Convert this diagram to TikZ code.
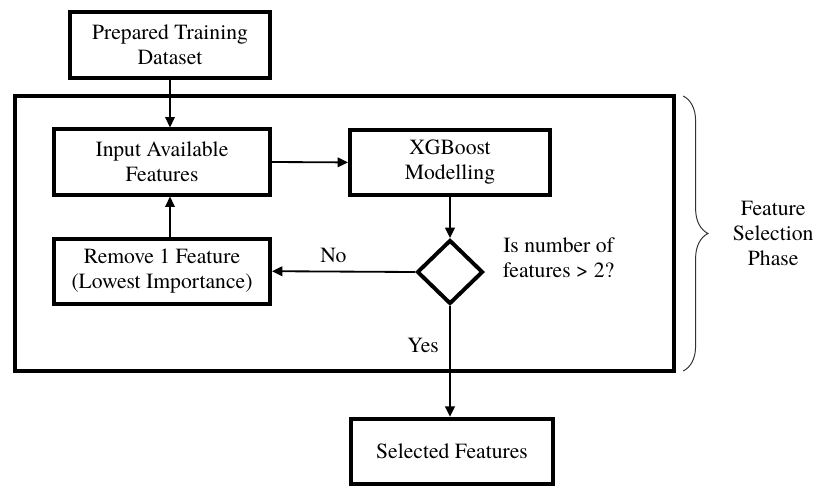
\documentclass[tikz,border=0pt]{standalone}
\usepackage{fontspec}
\setmainfont{TeX Gyre Termes}
\usetikzlibrary{arrows.meta,shapes.geometric,decorations.pathreplacing}
\tikzset{
  stage/.style={rectangle,draw=black,line width=2.8pt,fill=white,align=center,minimum width=5.0cm,minimum height=1.63cm,inner sep=2pt,font=\fontsize{15.4}{17.8}\selectfont},
  decision/.style={diamond,draw=black,line width=2.8pt,fill=white,minimum width=1.65cm,minimum height=1.6cm,inner sep=0pt},
  arrow/.style={-{Triangle[length=2.6mm,width=2.4mm]},line width=1.3pt,black},
  lbl/.style={align=center,font=\fontsize{15.4}{17.8}\selectfont}
}
\begin{document}
\begin{tikzpicture}
  \useasboundingbox (0,0) rectangle (20.4,-12.175);
  % feature selection loop frame
  \draw[line width=2.8pt] (0.375,-2.4) rectangle (16.85,-9.275);
  \node[stage] (prep) at (4.25,-1.125) {Prepared Training\\Dataset};
  \node[stage,minimum width=5.4cm] (input) at (4.05,-4.05) {Input Available\\Features};
  \node[stage] (xgb) at (11.25,-4.06) {XGBoost\\Modelling};
  \node[stage,minimum width=5.4cm] (remove) at (4.05,-6.78) {Remove 1 Feature\\(Lowest Importance)};
  \node[decision] (check) at (11.25,-6.8) {};
  \node[lbl,anchor=west] (question) at (12.45,-6.45) {Is number of\\features > 2?};
  \node[stage,minimum width=5.05cm,minimum height=1.62cm] (selected) at (11.3,-11.28) {Selected Features};
  \coordinate (loopx) at (4.25,0);
  \draw[arrow] (prep.south) -- (prep.south |- input.north);
  \draw[arrow] (input.east) -- (xgb.west);
  \draw[arrow] (xgb.south) -- (check.north);
  \draw[arrow] (check.west) -- (remove.east) node[lbl,pos=0.57,above=2pt] (no) {No};
  \draw[arrow] (loopx |- remove.north) -- (loopx |- input.south);
  \draw[arrow] (check.south) -- (check.south |- selected.north) node[lbl,pos=0.36,left=4pt] (yes) {Yes};
  % phase brace
  \draw[decorate,decoration={brace,amplitude=0.62cm},line width=0.7pt,black!80] (17.08,-2.4) -- (17.08,-9.275) coordinate[midway] (bracemid);
  \node[lbl] (phase) at (19.33,-5.83) {Feature\\Selection\\Phase};
\end{tikzpicture}
\end{document}
